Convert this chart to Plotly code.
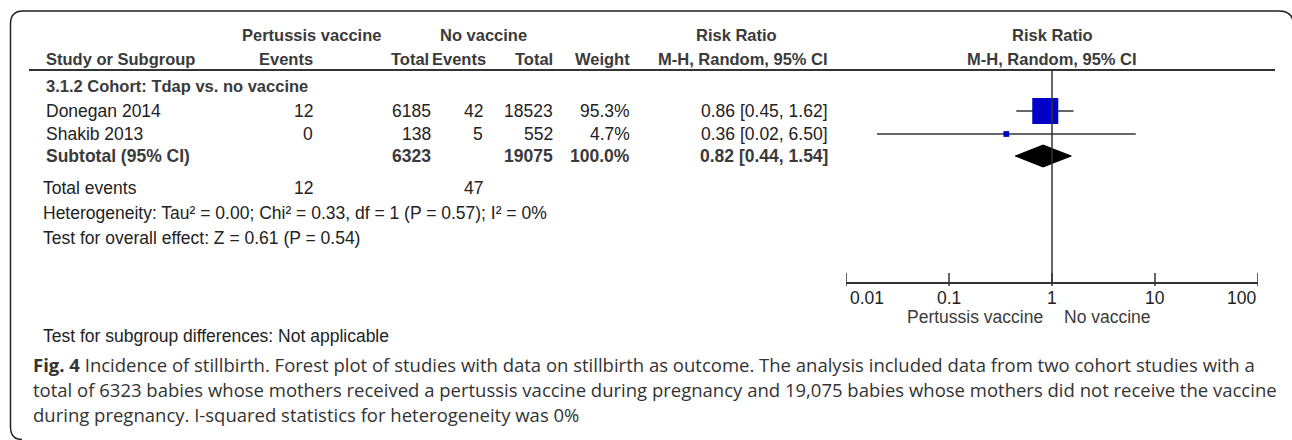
import math
import plotly.graph_objects as go

# ---------------- data ----------------
studies = ["Donegan 2014", "Shakib 2013"]
vac_events = [12, 0]
vac_total = [6185, 138]
ctl_events = [42, 5]
ctl_total = [18523, 552]
weights = [95.3, 4.7]
rr = [0.86, 0.36]
rr_lo = [0.45, 0.02]
rr_hi = [1.62, 6.50]

sub_vac_total = 6323
sub_ctl_total = 19075
sub_weight = 100.0
sub_rr = 0.82
sub_lo = 0.44
sub_hi = 1.54
tot_vac_events = 12
tot_ctl_events = 47

tick_vals = [0.01, 0.1, 1, 10, 100]
tick_text = ["0.01", "0.1", "1", "10", "100"]

subgroup_title = "3.1.2 Cohort: Tdap vs. no vaccine"
heterogeneity = "Heterogeneity: Tau² = 0.00; Chi² = 0.33, df = 1 (P = 0.57); I² = 0%"
overall = "Test for overall effect: Z = 0.61 (P = 0.54)"
subgroup_diff = "Test for subgroup differences: Not applicable"
favours = ["Pertussis vaccine", "No vaccine"]
caption = [
    "<b>Fig. 4</b> Incidence of stillbirth. Forest plot of studies with data on stillbirth as outcome. The analysis included data from two cohort studies with a",
    "total of 6323 babies whose mothers received a pertussis vaccine during pregnancy and 19,075 babies whose mothers did not receive the vaccine",
    "during pregnancy. I-squared statistics for heterogeneity was 0%",
]

# ---------------- layout constants ----------------
W, H = 1292, 440
AX_Y = 283          # pixel row of forest axis
Y2_BOTTOM = 300     # pixel row where the forest-panel y axis ends
FP_X0, FP_X1 = 846, 1258
TFONT = "Liberation Sans, Arial, sans-serif"
TSIZE = 17.5
HSIZE = 16.5
TCOL = "#222222"
HCOL = "#3a3a3a"

ROW_H1, ROW_H2, ROW_LINE = 35, 59, 70
ROW_SUBG = 86
ROW_STUDY = [111, 134]
ROW_SUB = 156
ROW_TOT, ROW_HET, ROW_OVR = 188, 213, 238
ROW_TICK, ROW_FAV, ROW_SGD = 298, 317, 336
ROW_CAP = [364, 389, 414]

COL_STUDY = 44
COL_EV1, COL_TOT1, COL_EV2, COL_TOT2, COL_W, COL_RR = 315, 433, 485, 555, 632, 830

fig = go.Figure()

# ---- forest axis line and ticks (log axis x2) ----
fig.add_trace(go.Scatter(x=[tick_vals[0], tick_vals[-1]], y=[AX_Y, AX_Y], xaxis="x2", yaxis="y2",
                         mode="lines", line=dict(color="#333333", width=2),
                         hoverinfo="skip", showlegend=False))
tx, ty = [], []
for v in tick_vals:
    tx += [v, v, None]
    ty += [AX_Y - 10, AX_Y + 3, None]
fig.add_trace(go.Scatter(x=tx, y=ty, xaxis="x2", yaxis="y2", mode="lines",
                         line=dict(color="#333333", width=1.5),
                         hoverinfo="skip", showlegend=False))

# ---- forest marks ----
for i in range(len(studies)):
    fig.add_trace(go.Scatter(x=[rr_lo[i], rr_hi[i]], y=[ROW_STUDY[i]] * 2, xaxis="x2", yaxis="y2",
                             mode="lines", line=dict(color="#333333", width=1.5),
                             hoverinfo="skip", showlegend=False))
sizes = [26 * (w / max(weights)) ** 0.5 for w in weights]
fig.add_trace(go.Scatter(x=rr, y=ROW_STUDY, xaxis="x2", yaxis="y2", mode="markers",
                         marker=dict(symbol="square", size=sizes, color="#0000C8", opacity=1,
                                     line=dict(width=0)),
                         hoverinfo="skip", showlegend=False))
DH = 11
fig.add_trace(go.Scatter(x=[sub_lo, sub_rr, sub_hi, sub_rr, sub_lo],
                         y=[ROW_SUB, ROW_SUB - DH, ROW_SUB, ROW_SUB + DH, ROW_SUB],
                         xaxis="x2", yaxis="y2", mode="lines", fill="toself",
                         fillcolor="#000000", line=dict(color="#000000", width=1),
                         hoverinfo="skip", showlegend=False))

shapes = []
# null line
shapes.append(dict(type="line", xref="x2", yref="y2", x0=1, x1=1, y0=ROW_LINE, y1=AX_Y,
                   line=dict(color="#333333", width=1.5)))
# header rule
shapes.append(dict(type="line", xref="x", yref="y", x0=29, x1=1275, y0=ROW_LINE, y1=ROW_LINE,
                   line=dict(color="#333333", width=2)))
# frame (right side runs just past the picture edge)
shapes.append(dict(type="path", xref="x", yref="y",
                   path="M 1293.5,440 L 1293.5,25 Q 1293.5,11 1279,11 L 23,11 Q 10.5,11 10.5,24 L 10.5,427 Q 10.5,439.5 22,439.5",
                   line=dict(color="#222222", width=1.5)))

ann = []


def txt(x, y, s, anchor="left", bold=False, size=TSIZE, color=TCOL, xref="x", font=TFONT, xshift=0):
    ann.append(dict(x=x, y=y, xref=xref, yref="y", text=(f"<b>{s}</b>" if bold else s),
                    showarrow=False, xanchor=anchor, yanchor="middle", xshift=xshift,
                    font=dict(family=font, size=size, color=color)))


def hdr(x, y, s, anchor):
    txt(x, y, s, anchor, True, size=HSIZE, color=HCOL)


# headers
hdr(311, ROW_H1, "Pertussis vaccine", "center")
hdr(483, ROW_H1, "No vaccine", "center")
hdr(736, ROW_H1, "Risk Ratio", "center")
hdr(1052, ROW_H1, "Risk Ratio", "center")
hdr(COL_STUDY, ROW_H2, "Study or Subgroup", "left")
hdr(COL_EV1, ROW_H2, "Events", "right")
hdr(COL_TOT1 - 2, ROW_H2, "Total", "right")
hdr(COL_EV2 + 3, ROW_H2, "Events", "right")
hdr(COL_TOT2, ROW_H2, "Total", "right")
hdr(COL_W, ROW_H2, "Weight", "right")
hdr(COL_RR, ROW_H2, "M-H, Random, 95% CI", "right")
hdr(1052, ROW_H2, "M-H, Random, 95% CI", "center")

hdr(COL_STUDY, ROW_SUBG, subgroup_title, "left")

for i, s in enumerate(studies):
    y = ROW_STUDY[i]
    txt(COL_STUDY, y, s)
    txt(COL_EV1, y, str(vac_events[i]), "right")
    txt(COL_TOT1, y, str(vac_total[i]), "right")
    txt(COL_EV2, y, str(ctl_events[i]), "right")
    txt(COL_TOT2, y, str(ctl_total[i]), "right")
    txt(COL_W, y, f"{weights[i]:.1f}%", "right")
    txt(COL_RR, y, f"{rr[i]:.2f} [{rr_lo[i]:.2f}, {rr_hi[i]:.2f}]", "right")

txt(COL_STUDY, ROW_SUB, "Subtotal (95% CI)", "left", True, color=HCOL)
txt(COL_TOT1, ROW_SUB, str(sub_vac_total), "right", True, color=HCOL)
txt(COL_TOT2, ROW_SUB, str(sub_ctl_total), "right", True, color=HCOL)
txt(COL_W, ROW_SUB, f"{sub_weight:.1f}%", "right", True, color=HCOL)
txt(COL_RR, ROW_SUB, f"{sub_rr:.2f} [{sub_lo:.2f}, {sub_hi:.2f}]", "right", True, color=HCOL)

txt(41, ROW_TOT, "Total events")
txt(COL_EV1, ROW_TOT, str(tot_vac_events), "right")
txt(COL_EV2, ROW_TOT, str(tot_ctl_events), "right")
txt(41, ROW_HET, heterogeneity)
txt(41, ROW_OVR, overall)
txt(41, ROW_SGD, subgroup_diff)

# axis tick labels (annotation x on a log axis is given in log10 units)
for v, t in zip(tick_vals, tick_text):
    lx = math.log10(v)
    if v == tick_vals[0]:
        txt(lx, ROW_TICK, t, "left", xref="x2", xshift=2)
    elif v == tick_vals[-1]:
        txt(lx, ROW_TICK, t, "right", xref="x2")
    else:
        txt(lx, ROW_TICK, t, "center", xref="x2")

txt(0, ROW_FAV, favours[0], "right", xref="x2", xshift=-7, color=HCOL)
txt(0, ROW_FAV, favours[1], "left", xref="x2", xshift=10, color=HCOL)

for y, line in zip(ROW_CAP, caption):
    txt(31, y, line, "left", size=18.5, color="#333333", font="Open Sans, sans-serif")

fig.update_layout(
    width=W, height=H, margin=dict(l=0, r=0, t=0, b=0),
    paper_bgcolor="white", plot_bgcolor="rgba(0,0,0,0)",
    xaxis=dict(range=[0, W], domain=[0, 1], visible=False, fixedrange=True),
    yaxis=dict(range=[H, 0], domain=[0, 1], visible=False, fixedrange=True),
    xaxis2=dict(type="log", range=[-2, 2], domain=[FP_X0 / W, FP_X1 / W], anchor="y2",
                visible=False, fixedrange=True),
    yaxis2=dict(range=[Y2_BOTTOM, 0], domain=[(H - Y2_BOTTOM) / H, 1], anchor="x2", visible=False,
                fixedrange=True),
    shapes=shapes, annotations=ann, showlegend=False,
)

fig.write_html("out.html", config={"displayModeBar": False},
               post_script="document.body.style.margin='0';document.body.style.overflow='hidden';")
